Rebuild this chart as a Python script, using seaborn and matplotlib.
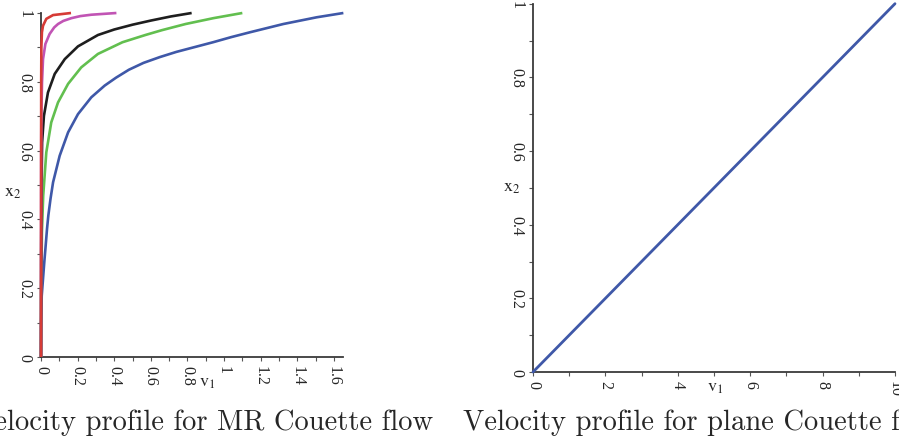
import numpy as np
import pandas as pd
import matplotlib
matplotlib.use("Agg")
import matplotlib.pyplot as plt
import seaborn as sns
from matplotlib.ticker import MultipleLocator

# ---------------- data ----------------
red_x2 = [0, 0.5, 0.8, 0.9, 0.944, 0.963, 0.983, 0.994, 1.0]
red_v1 = [0, 0.0005, 0.001, 0.002, 0.005, 0.011, 0.029, 0.066, 0.164]

mag_x2 = [0, 0.4, 0.6, 0.7, 0.798, 0.866, 0.910, 0.939, 0.958, 0.968, 0.977, 0.985, 0.991, 0.995, 1.0]
mag_v1 = [0, 0.0005, 0.001, 0.002, 0.0055, 0.011, 0.024, 0.047, 0.072, 0.093, 0.122, 0.166, 0.215, 0.275, 0.412]

blk_x2 = [0, 0.3, 0.5, 0.624, 0.701, 0.769, 0.823, 0.866, 0.903, 0.936, 0.952, 0.966, 0.978, 0.990, 1.0]
blk_v1 = [0, 0.001, 0.003, 0.006, 0.016, 0.038, 0.075, 0.130, 0.202, 0.311, 0.400, 0.500, 0.600, 0.710, 0.823]

grn_x2 = [0, 0.2, 0.314, 0.364, 0.469, 0.595, 0.682, 0.740, 0.794, 0.842, 0.881, 0.915, 0.936, 0.950, 0.968, 0.985, 1.0]
grn_v1 = [0, 0.001, 0.004, 0.005, 0.012, 0.029, 0.056, 0.093, 0.148, 0.220, 0.311, 0.445, 0.570, 0.660, 0.790, 0.942, 1.100]

blu_x2 = [0, 0.10, 0.178, 0.276, 0.314, 0.373, 0.411, 0.46, 0.508, 0.585, 0.653, 0.706, 0.755, 0.789,
          0.812, 0.835, 0.855, 0.872, 0.887, 0.901, 0.915, 0.930, 0.944, 0.968, 0.9875, 1.0]
blu_v1 = [0, 0.001, 0.004, 0.018, 0.024, 0.033, 0.040, 0.052, 0.066, 0.102, 0.148, 0.202, 0.275, 0.348,
          0.410, 0.480, 0.560, 0.650, 0.740, 0.840, 0.940, 1.040, 1.142, 1.324, 1.506, 1.652]

plane_v1 = [0, 10]
plane_x2 = [0, 1]

left_xticks = [0, 0.2, 0.4, 0.6, 0.8, 1, 1.2, 1.4, 1.6]
left_xticklabels = ["0", "0.2", "0.4", "0.6", "0.8", "1", "1.2", "1.4", "1.6"]
right_xticks = [0, 2, 4, 6, 8, 10]
right_xticklabels = ["0", "2", "4", "6", "8", "10"]
yticks = [0, 0.2, 0.4, 0.6, 0.8, 1]
yticklabels = ["0", "0.2", "0.4", "0.6", "0.8", "1"]

captions = ["Velocity profile for MR Couette flow", "Velocity profile for plane Couette flow"]

# ---------------- style ----------------
sns.set_style("white")
plt.rcParams["font.family"] = ["Liberation Serif", "DejaVu Serif"]
plt.rcParams["mathtext.fontset"] = "stix"

fig = plt.figure(figsize=(8.99, 4.39), dpi=100)
axL = fig.add_axes([41/899, (439-358)/439, (343-41)/899, (358-14)/439])
axR = fig.add_axes([533/899, (439-373)/439, (895-533)/899, (373-4.7)/439])

curves = [
    ("blue", blu_v1, blu_x2, "#3f58a8"),
    ("green", grn_v1, grn_x2, "#62bf4f"),
    ("black", blk_v1, blk_x2, "#1e1e1e"),
    ("magenta", mag_v1, mag_x2, "#c154b4"),
    ("red", red_v1, red_x2, "#d63b36"),
]
rows = []
for name, v, x, c in curves:
    for vi, xi in zip(v, x):
        rows.append({"curve": name, "v1": vi, "x2": xi})
df = pd.DataFrame(rows)
palette = {name: c for name, v, x, c in curves}
sns.lineplot(data=df, x="v1", y="x2", hue="curve", palette=palette, sort=False,
             estimator=None, ax=axL, linewidth=1.9, legend=False)
for ln in axL.lines:
    ln.set_zorder(3)
    ln.set_clip_on(False)
    ln.set_solid_capstyle("butt")
    ln.set_solid_joinstyle("round")

dfR = pd.DataFrame({"v1": plane_v1, "x2": plane_x2})
sns.lineplot(data=dfR, x="v1", y="x2", sort=False, estimator=None, ax=axR,
             color="#3f58a8", linewidth=2.0, legend=False)
for ln in axR.lines:
    ln.set_zorder(3)
    ln.set_clip_on(False)

def style_axes(ax, xlim, xticks, xlabels, xminor, vlabel_pos, xlabel_pos):
    ax.set_xlim(*xlim)
    ax.set_ylim(0, 1)
    for s in ["top", "right"]:
        ax.spines[s].set_visible(False)
    for s in ["left", "bottom"]:
        ax.spines[s].set_color("#3a3a3a")
        ax.spines[s].set_linewidth(1.3)
    ax.set_xticks(xticks)
    ax.set_xticklabels(xlabels, rotation=-90, fontsize=11.5)
    ax.set_yticks(yticks)
    ax.set_yticklabels(yticklabels, rotation=-90, fontsize=11.5, va="center")
    ax.xaxis.set_minor_locator(MultipleLocator(xminor))
    ax.yaxis.set_minor_locator(MultipleLocator(0.1))
    ax.tick_params(which="both", direction="out", length=3, width=0.8, color="#555555",
                   bottom=True, left=True, pad=3)
    ax.set_xlabel("")
    ax.set_ylabel("")
    ax.text(*vlabel_pos, r"$\mathrm{x}_2$", transform=ax.transAxes, fontsize=13,
            ha="center", va="center")
    ax.text(*xlabel_pos, r"$\mathrm{v}_1$", transform=ax.transAxes, fontsize=13,
            ha="center", va="center")
    ax.set_facecolor("white")

style_axes(axL, (0, 1.65), left_xticks, left_xticklabels, 0.1,
           ((13-41)/302, (358-193)/344), ((207-41)/302, -(383-358)/344))
style_axes(axR, (0, 10), right_xticks, right_xticklabels, 1,
           ((512-533)/362, (373-188)/368.3), ((715-533)/362, -(388-373)/368.3))

fig.text(433/899, (439-430)/439, captions[0], family="cmr10", fontsize=20.6,
         ha="right", va="baseline")
fig.text(463/899, (439-430)/439, captions[1], family="cmr10", fontsize=20.6,
         ha="left", va="baseline")

fig.savefig("out.png", dpi=100, facecolor="white")
